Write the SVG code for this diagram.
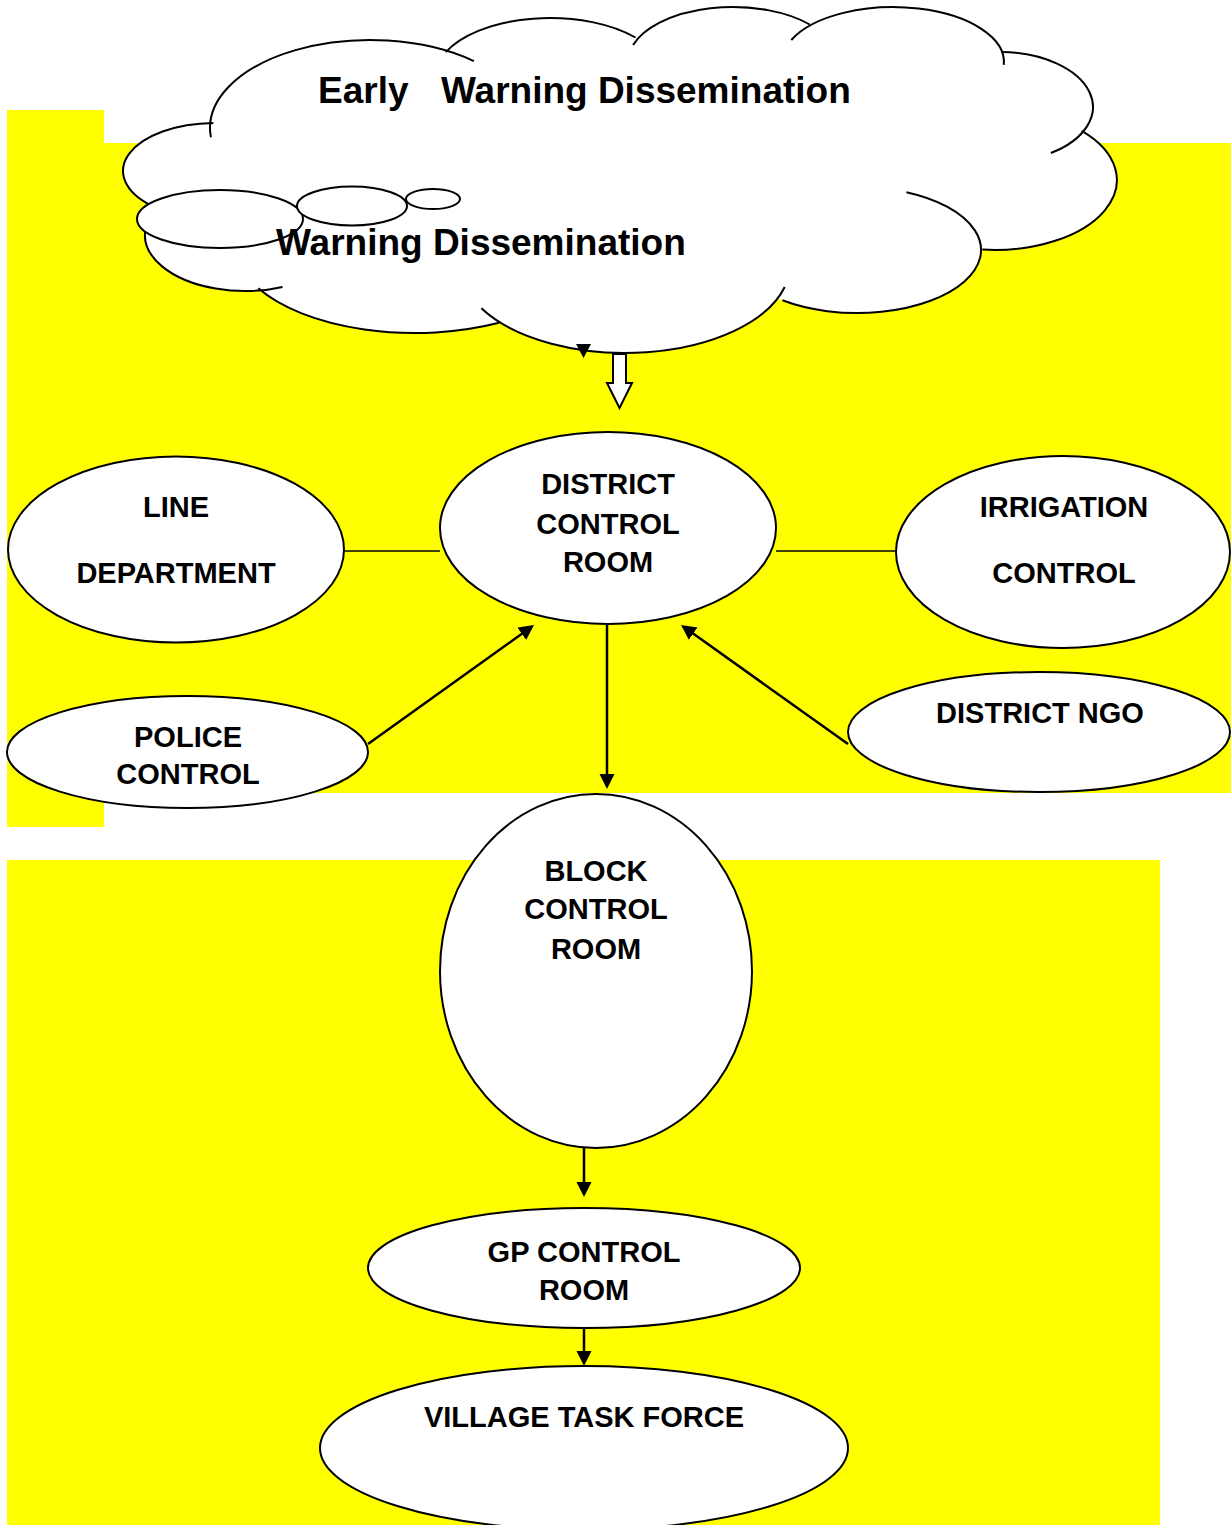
<svg xmlns="http://www.w3.org/2000/svg" width="1231" height="1525" viewBox="0 0 1231 1525">
<style>
.bg{fill:#FFFF00;stroke:none}
.node{fill:#FFFFFF;stroke:#000000;stroke-width:2}
.cf{fill:#FFFFFF;stroke:none}
.co{fill:none;stroke:#000000;stroke-width:2}
.t{font-family:"Liberation Sans",Arial,sans-serif;font-weight:bold;font-size:29px;text-anchor:middle;fill:#000000}
.tc{font-family:"Liberation Sans",Arial,sans-serif;font-weight:bold;font-size:37px;fill:#000000}
.ln{stroke:#000000;stroke-width:1.6;fill:none}
.ar{stroke:#000000;stroke-width:2.5;fill:none;marker-end:url(#ah)}
</style>
<defs>
<marker id="ah" markerUnits="userSpaceOnUse" markerWidth="16" markerHeight="16" refX="1" refY="7.5" orient="auto">
<path d="M0,0 L15,7.5 L0,15 Z" fill="#000000"/>
</marker>
</defs>
<rect width="1231" height="1525" fill="#FFFFFF"/>
<g id="background">
<rect class="bg" x="7" y="110" width="97" height="33"/>
<rect class="bg" x="7" y="143" width="1224" height="650"/>
<rect class="bg" x="7" y="793" width="97" height="34"/>
<rect class="bg" x="7" y="860" width="1153" height="665"/>
</g>
<g id="n-cloud">
<g class="cf">
<ellipse cx="370" cy="128" rx="160" ry="88"/>
<ellipse cx="550" cy="77" rx="115" ry="59"/>
<ellipse cx="733" cy="62" rx="105" ry="55"/>
<ellipse cx="893" cy="62" rx="111" ry="55"/>
<ellipse cx="1000" cy="107" rx="93" ry="55"/>
<ellipse cx="995" cy="180" rx="122" ry="70"/>
<ellipse cx="857" cy="250" rx="124" ry="63"/>
<ellipse cx="625" cy="265" rx="165" ry="88"/>
<ellipse cx="415" cy="245" rx="180" ry="88"/>
<ellipse cx="245" cy="235" rx="100" ry="56"/>
<ellipse cx="215" cy="171" rx="92" ry="48"/>
<polygon points="211,124 448,52 634,40 800,28 1002,56 1085,132 982,249 782,299 495,320 258,288 150,208"/>
</g>
<path class="co" d="M210.9,137.2 A160,88 0 0 1 473.9,61.1"/>
<path class="co" d="M445.8,52.1 A115,59 0 0 1 635.5,37.5"/>
<path class="co" d="M633.1,45 A105,55 0 0 1 809.8,24.5"/>
<path class="co" d="M791.3,40 A111,55 0 0 1 1003.8,64.9"/>
<path class="co" d="M1001.6,52 A93,55 0 0 1 1050.9,153"/>
<path class="co" d="M1081.7,130.8 A122,70 0 0 1 982.3,249.6"/>
<path class="co" d="M906.4,192.2 A124,63 0 1 1 782.4,300.3"/>
<path class="co" d="M784.7,287 A165,88 0 0 1 481.4,308.3"/>
<path class="co" d="M499,322.8 A180,88 0 0 1 258.3,288.3"/>
<path class="co" d="M282.5,286.9 A100,56 0 0 1 173.7,195.7"/>
<path class="co" d="M151.1,205.5 A92,48 0 0 1 213.4,123"/>
<ellipse class="node" cx="220" cy="219" rx="83" ry="29"/>
<ellipse class="node" cx="352" cy="206" rx="55" ry="19.5"/>
<ellipse class="node" cx="433" cy="199" rx="27" ry="10"/>
<text class="tc" y="103"><tspan x="318">Early</tspan><tspan x="441">Warning Dissemination</tspan></text>
<text class="tc" x="276" y="255">Warning Dissemination</text>
</g>
<g id="n-dcr">
<ellipse class="node" cx="608" cy="528" rx="168" ry="96"/>
<text class="t" x="608" y="494">DISTRICT</text>
<text class="t" x="608" y="534">CONTROL</text>
<text class="t" x="608" y="572">ROOM</text>
</g>
<g id="n-line">
<ellipse class="node" cx="176" cy="549.5" rx="168" ry="93"/>
<text class="t" x="176" y="517">LINE</text>
<text class="t" x="176" y="583">DEPARTMENT</text>
</g>
<g id="n-irrigation">
<ellipse class="node" cx="1063" cy="552" rx="167" ry="96"/>
<text class="t" x="1064" y="517">IRRIGATION</text>
<text class="t" x="1064" y="583">CONTROL</text>
</g>
<g id="n-police">
<ellipse class="node" cx="187.5" cy="752" rx="180.5" ry="56"/>
<text class="t" x="188" y="747">POLICE</text>
<text class="t" x="188" y="784">CONTROL</text>
</g>
<g id="n-ngo">
<ellipse class="node" cx="1039" cy="732" rx="191" ry="60"/>
<text class="t" x="1040" y="723">DISTRICT NGO</text>
</g>
<g id="n-block">
<ellipse class="node" cx="596" cy="971" rx="156" ry="177"/>
<text class="t" x="596" y="881">BLOCK</text>
<text class="t" x="596" y="919">CONTROL</text>
<text class="t" x="596" y="959">ROOM</text>
</g>
<g id="n-gp">
<ellipse class="node" cx="584" cy="1268" rx="216" ry="60"/>
<text class="t" x="584" y="1262">GP CONTROL</text>
<text class="t" x="584" y="1300">ROOM</text>
</g>
<g id="n-village">
<ellipse class="node" cx="584" cy="1448" rx="264" ry="82"/>
<text class="t" x="584" y="1427">VILLAGE TASK FORCE</text>
</g>
<g id="connectors">
<polygon points="576,344 591,344 583.5,358" fill="#000000"/>
<polygon points="613,354 626,354 626,383 632,383 619.5,408 607,383 613,383" fill="#FFFFFF" stroke="#000000" stroke-width="2" stroke-linejoin="miter"/>
<line class="ln" x1="344" y1="551" x2="440" y2="551"/>
<line class="ln" x1="776" y1="551" x2="896" y2="551"/>
<line class="ar" x1="368" y1="744" x2="522.6" y2="633.2"/>
<line class="ar" x1="848" y1="744" x2="692.4" y2="633.1"/>
<line class="ar" x1="607" y1="624" x2="607" y2="775"/>
<line class="ar" x1="584" y1="1148" x2="584" y2="1183"/>
<line class="ar" x1="584" y1="1328" x2="584" y2="1352"/>
</g>
</svg>
